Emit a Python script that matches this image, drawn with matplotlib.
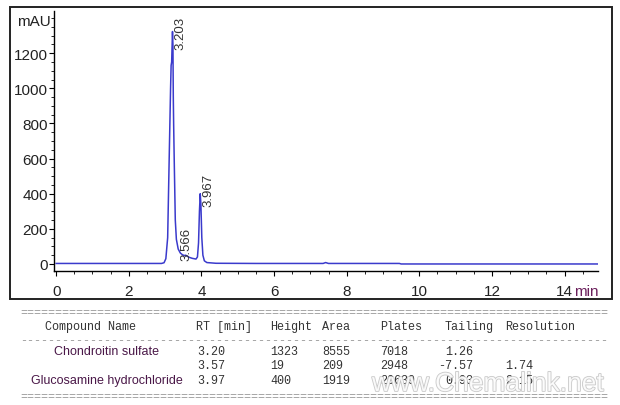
"""HPLC chromatogram with peak table"""

import matplotlib
matplotlib.use('Agg')
from matplotlib import pyplot as plt
from matplotlib import patches, transforms
import matplotlib.patheffects as pe
from matplotlib.ticker import MultipleLocator

# Chromatogram trace (time in min, signal in mAU)
times = [0.0, 2.90, 2.97, 3.02, 3.07, 3.11, 3.15, 3.165, 3.18, 3.203, 3.215,
         3.225, 3.235, 3.25, 3.28, 3.31, 3.36, 3.42, 3.48, 3.53, 3.566, 3.60,
         3.66, 3.75, 3.85, 3.89, 3.92, 3.945, 3.967, 3.985, 4.01, 4.04, 4.08,
         4.15, 4.4, 5.5, 7.35, 7.42, 7.5, 9.45, 9.5, 14.9]
signal = [3, 3, 7, 30, 150, 580, 1000, 1130, 1150, 1323, 1250,
          950, 790, 600, 250, 140, 85, 62, 52, 48, 50, 45,
          38, 32, 28, 40, 120, 300, 400, 340, 150, 50, 18,
          8, 4, 3, 3, 8, 3, 3, 0, 0]

# Peak annotations
peak_rt = [3.203, 3.566, 3.967]
peak_label_y = [1225, 25, 330]
peak_label_dx = [0.06, -0.15, 0.06]

# Peak table
table_header = ['Compound Name', 'RT [min]', 'Height', 'Area', 'Plates',
                'Tailing', 'Resolution']
compounds = ['Chondroitin sulfate', '', 'Glucosamine hydrochloride']
rt_col = ['3.20', '3.57', '3.97']
height_col = ['1323', '19', '400']
area_col = ['8555', '209', '1919']
plates_col = ['7018', '2948', '20639']
tailing_col = ['1.26', '-7.57', '0.93']
resolution_col = ['', '1.74', '2.15']

W, H = 620, 406


def fx(x):
    return x / W


def fy(y):
    return 1 - y / H


fig = plt.figure(figsize=(6.2, 4.06), dpi=100)
fig.patch.set_facecolor('white')

# outer frame round the plot area
fig.patches.append(patches.Rectangle((fx(10), fy(300)), fx(602), 292 / H,
                                     transform=fig.transFigure, fill=False,
                                     edgecolor='#222222', linewidth=1.4))

ax = fig.add_axes([fx(54), fy(272), 544 / W, 260 / H])
ax.plot(times, signal, color='#3a3acc', linewidth=1.1)
ax.set_xlim(-0.06, 14.92)
ax.set_ylim(-40, 1440)

for spine in ['top', 'right']:
    ax.spines[spine].set_visible(False)
for spine in ['left', 'bottom']:
    ax.spines[spine].set_linewidth(1.0)

ax.xaxis.set_major_locator(MultipleLocator(2))
ax.xaxis.set_minor_locator(MultipleLocator(0.5))
ax.yaxis.set_major_locator(MultipleLocator(200))
ax.yaxis.set_minor_locator(MultipleLocator(50))
ax.set_yticks(range(0, 1201, 200))
ax.tick_params(axis='both', which='major', length=3.5, labelsize=11,
               labelcolor='#222222')
ax.tick_params(axis='y', which='major', pad=1)
ax.tick_params(axis='x', which='major', pad=6)
ax.tick_params(axis='both', which='minor', length=2)
for lab in ax.get_xticklabels() + ax.get_yticklabels():
    lab.set_fontfamily('Liberation Sans')

blend = transforms.blended_transform_factory(ax.transAxes, ax.transData)
ax.text(-0.005, 1385, 'mAU', transform=blend, ha='right', va='center',
        fontsize=11, family='Liberation Sans', color='#222222')
fig.text(fx(574), fy(292), 'min', ha='left', va='center',
         fontsize=11, family='Liberation Sans', color='#6b1f5c')

for rt, ly, dx in zip(peak_rt, peak_label_y, peak_label_dx):
    ax.text(rt + dx, ly, f'{rt:.3f}', rotation=90, ha='left', va='bottom',
            fontsize=9.5, family='Liberation Sans', color='#333333')

# Peak table below the chart
mono = dict(family='Liberation Mono', fontsize=8.5, color='#333333',
            va='center')
sep_kw = dict(family='Liberation Mono', fontsize=8.5, color='#999999',
              va='center')
fig.text(fx(20), fy(313), '=' * 84, **sep_kw)
fig.text(fx(20), fy(341), '-' * 84, **sep_kw)
fig.text(fx(20), fy(397), '=' * 84, **sep_kw)

header_x = [45, 196, 270, 322, 380, 445, 505]
for hx, name in zip(header_x, table_header):
    fig.text(fx(hx), fy(327), name, **mono)

row_y = [352, 366, 381]
for i, ry in enumerate(row_y):
    if compounds[i]:
        fig.text(fx(107), fy(ry), compounds[i], ha='center', va='center',
                 fontsize=9, family='Liberation Sans', color='#4a1848')
    fig.text(fx(197), fy(ry), rt_col[i], **mono)
    fig.text(fx(270), fy(ry), height_col[i], **mono)
    fig.text(fx(322), fy(ry), area_col[i], **mono)
    fig.text(fx(380), fy(ry), plates_col[i], **mono)
    tx = 438 if tailing_col[i].startswith('-') else 445
    fig.text(fx(tx), fy(ry), tailing_col[i], **mono)
    fig.text(fx(505), fy(ry), resolution_col[i], **mono)

# watermark
fig.text(fx(372), fy(385), 'www.Chemalink.net', fontsize=19,
         family='Liberation Sans', color='white', va='center', ha='left',
         alpha=0.85,
         path_effects=[pe.withStroke(linewidth=1.2, foreground='#c0c0c0')])

fig.savefig('out.png', dpi=100)
